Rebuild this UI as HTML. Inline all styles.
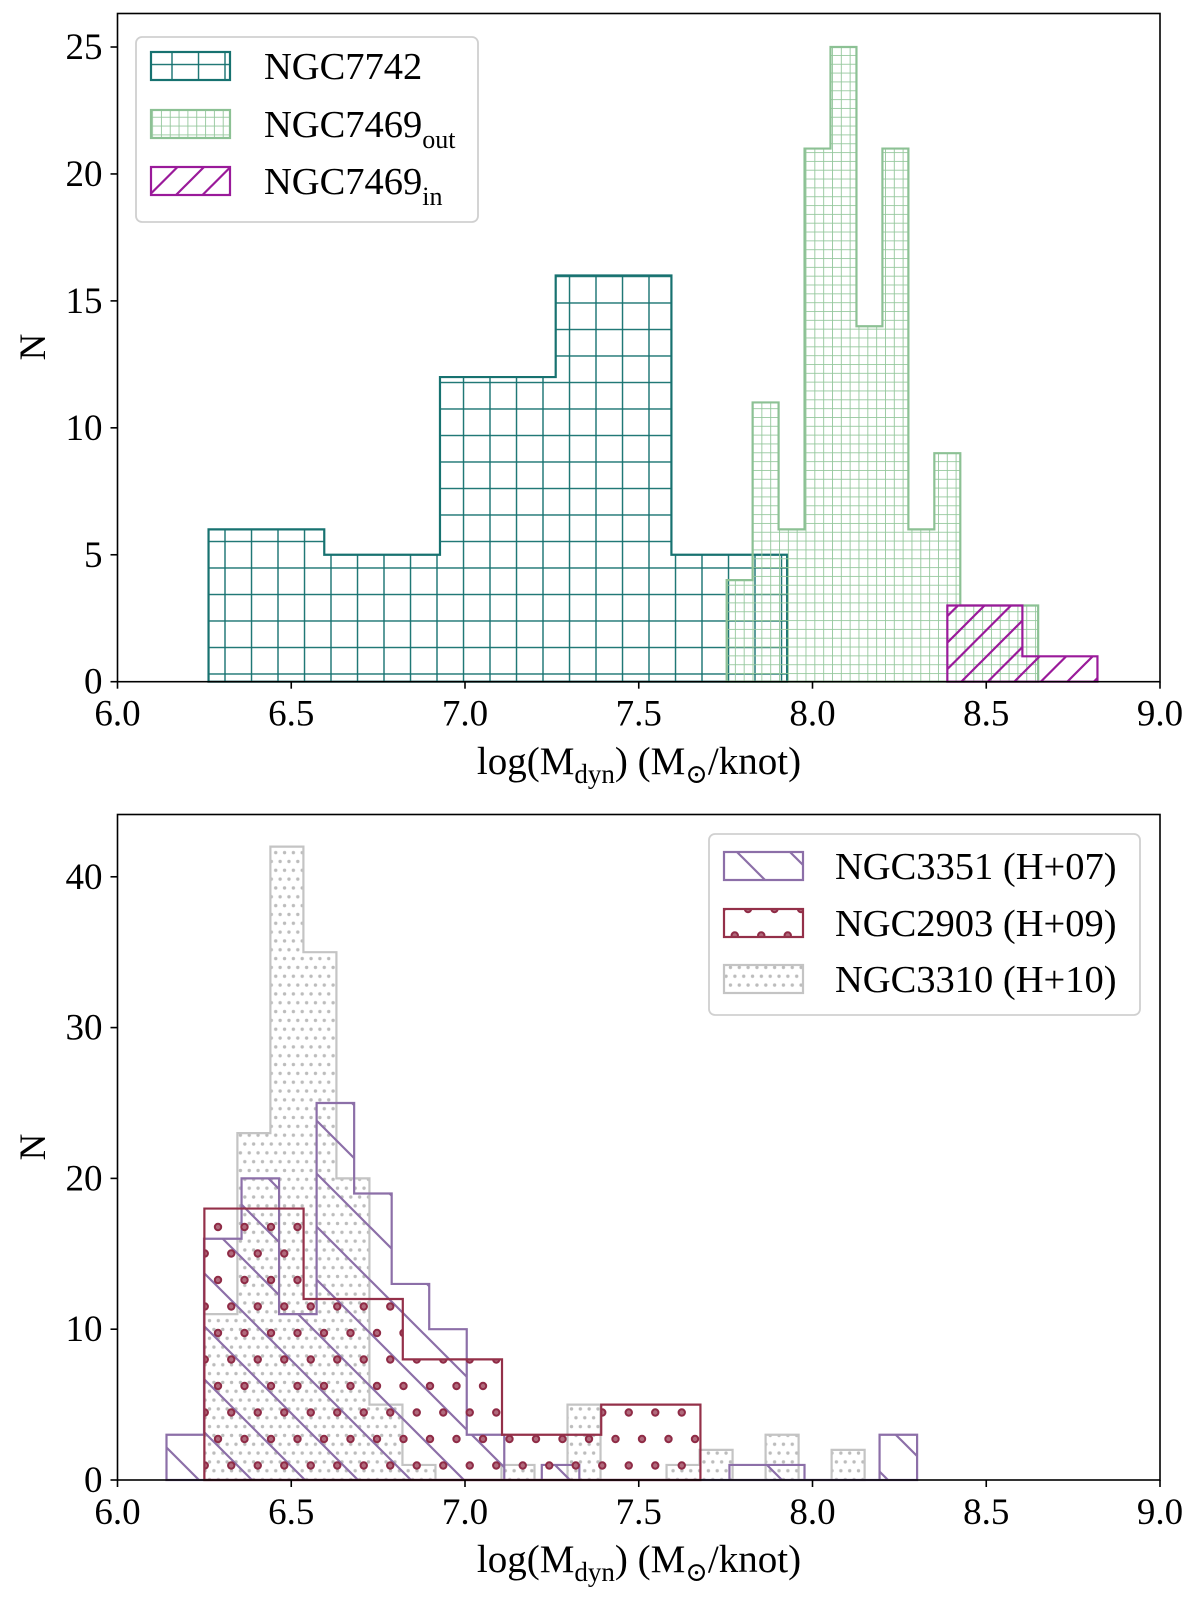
<!DOCTYPE html>
<html><head><meta charset="utf-8"><style>
html,body{margin:0;padding:0;background:#fff;}
svg{display:block;font-family:"Liberation Serif","DejaVu Serif",serif;}
</style></head><body>
<svg id="fig" width="1200" height="1602" viewBox="0 0 1200 1602" xmlns="http://www.w3.org/2000/svg">
<defs>
<pattern id="p-teal" patternUnits="userSpaceOnUse" x="12.3" y="10.8" width="26.5" height="26.5">
<path d="M0 0H26.5M0 0V26.5" stroke="#177270" stroke-width="2.8" fill="none"/></pattern>
<pattern id="p-green" patternUnits="userSpaceOnUse" x="2" y="2" width="8.83" height="8.83">
<path d="M0 0H8.83M0 0V8.83" stroke="#94c79c" stroke-width="1.8" fill="none"/></pattern>
<pattern id="p-purple" patternUnits="userSpaceOnUse" x="0" y="0" width="26.5" height="26.5">
<path d="M-1 27.5L27.5 -1M-14.25 14.25L14.25 -14.25M12.25 40.75L40.75 12.25" stroke="#9a1a9a" stroke-width="2.2" fill="none"/></pattern>
<pattern id="p-lav" patternUnits="userSpaceOnUse" x="0" y="9" width="53" height="53">
<path d="M-1 -1L54 54M-27.5 25.5L27.5 80.5M25.5 -27.5L80.5 27.5" stroke="#8c6fa8" stroke-width="2.2" fill="none"/></pattern>
<pattern id="p-red" patternUnits="userSpaceOnUse" x="1" y="3" width="26.5" height="53">
<circle cx="5" cy="5" r="3.2" fill="#b06a7c" stroke="#8f2b46" stroke-width="2"/>
<circle cx="18.25" cy="31.5" r="3.2" fill="#b06a7c" stroke="#8f2b46" stroke-width="2"/></pattern>
<pattern id="p-grey" patternUnits="userSpaceOnUse" x="0" y="3" width="8.83" height="17.66">
<circle cx="2" cy="2" r="1.7" fill="#bcbcbc"/>
<circle cx="6.4" cy="10.83" r="1.7" fill="#bcbcbc"/></pattern>
</defs>
<g id="top"></g>
<g id="bot"></g>
</svg>
<script>
// ---- top panel data ----
const topXTicks = [6.0, 6.5, 7.0, 7.5, 8.0, 8.5, 9.0];
const topYTicks = [0, 5, 10, 15, 20, 25];
const n7742Start = 6.262, n7742Width = 0.333;
const n7742Counts = [6, 5, 12, 16, 5];
const n7469outStart = 7.753, n7469outWidth = 0.0747;
const n7469outCounts = [4, 11, 6, 21, 25, 14, 21, 6, 9, 3, 3, 3];
const n7469inStart = 8.388, n7469inWidth = 0.216;
const n7469inCounts = [3, 1];
// ---- bottom panel data ----
const botXTicks = [6.0, 6.5, 7.0, 7.5, 8.0, 8.5, 9.0];
const botYTicks = [0, 10, 20, 30, 40];
const n3351Start = 6.141, n3351Width = 0.108;
const n3351Counts = [3, 16, 20, 11, 25, 19, 13, 10, 3, 0, 1, 0, 0, 0, 0, 1, 1, 0, 0, 3];
const n2903Start = 6.25, n2903Width = 0.2855;
const n2903Counts = [18, 12, 8, 3, 5];
const n3310Start = 6.25, n3310Width = 0.095;
const n3310Counts = [11, 23, 42, 35, 20, 5, 1, 0, 0, 1, 0, 5, 0, 0, 1, 2, 0, 3, 0, 2];

const NS = "http://www.w3.org/2000/svg";
function mk(tag, attrs, parent) {
  const e = document.createElementNS(NS, tag);
  for (const k in attrs) e.setAttribute(k, attrs[k]);
  parent.appendChild(e);
  return e;
}
function makeAxes(L, R, T, B, xmin, xmax, ymin, ymax) {
  return {
    x: v => L + (v - xmin) / (xmax - xmin) * (R - L),
    y: v => B - (v - ymin) / (ymax - ymin) * (B - T),
    L, R, T, B
  };
}
function drawHist(g, ax, start, width, counts, fill, stroke, name) {
  let d = "M" + ax.x(start) + " " + ax.y(0);
  for (let i = 0; i < counts.length; i++) {
    const x0 = ax.x(start + i * width), x1 = ax.x(start + (i + 1) * width), y = ax.y(counts[i]);
    d += " L" + x0 + " " + y + " L" + x1 + " " + y;
  }
  d += " L" + ax.x(start + counts.length * width) + " " + ax.y(0) + " Z";
  const p = mk("path", {d: d, fill: fill, stroke: stroke, "stroke-width": 2.2, "stroke-linejoin": "miter"}, g);
  
  
}
function drawFrame(g, ax, xticks, yticks) {
  for (const t of xticks) {
    const x = ax.x(t);
    const l = mk("line", {x1: x, x2: x, y1: ax.B, y2: ax.B + 7, stroke: "#000", "stroke-width": 1.6}, g);
    
    
    const tx = mk("text", {x: x, y: ax.B + 44, "font-size": 37, "text-anchor": "middle", fill: "#000"}, g);
    tx.textContent = t.toFixed(1);
    
    
  }
  for (const t of yticks) {
    const y = ax.y(t);
    const l = mk("line", {x1: ax.L - 7, x2: ax.L, y1: y, y2: y, stroke: "#000", "stroke-width": 1.6}, g);
    
    
    const tx = mk("text", {x: ax.L - 15, y: y + 12, "font-size": 37, "text-anchor": "end", fill: "#000"}, g);
    tx.textContent = String(t);
    
    
  }
  const r = mk("rect", {x: ax.L, y: ax.T, width: ax.R - ax.L, height: ax.B - ax.T, fill: "none", stroke: "#000", "stroke-width": 1.6}, g);
  
  
}
function xLabel(g, cx, y) {
  const t = mk("text", {x: cx, y: y, "font-size": 39, "text-anchor": "middle", fill: "#000"}, g);
  
  
  t.innerHTML = 'log(M<tspan font-size="27" dy="9">dyn</tspan><tspan dy="-9">) (M</tspan><tspan font-size="27" dy="9">⊙</tspan><tspan dy="-9">/knot)</tspan>';
}
function yLabel(g, x, cy) {
  const t = mk("text", {x: x, y: cy, "font-size": 37, "text-anchor": "middle", fill: "#000", transform: "rotate(-90 " + x + " " + cy + ")"}, g);
  t.textContent = "N";
  
  
}
function legend(g, bx, by, bw, bh, entries) {
  const box = mk("rect", {x: bx, y: by, width: bw, height: bh, rx: 6, fill: "#fff", "fill-opacity": 0.85, stroke: "#d0d0d0", "stroke-width": 1.8}, g);
  
  
  for (const e of entries) {
    const eg = mk("g", {}, g);
    
    
    mk("rect", {x: e.px, y: e.cy - 14, width: 79, height: 28, fill: e.fill, stroke: e.stroke, "stroke-width": 2.2}, eg);
    const t = mk("text", {x: e.tx, y: e.cy + 13, "font-size": 38.5, fill: "#000"}, eg);
    t.innerHTML = e.label;
  }
}

// top panel
const gT = document.getElementById("top");
const axT = makeAxes(117.5, 1160, 13.5, 681.7, 6, 9, 0, 26.32);
drawHist(gT, axT, n7742Start, n7742Width, n7742Counts, "url(#p-teal)", "#177270", "hist-ngc7742");
drawHist(gT, axT, n7469outStart, n7469outWidth, n7469outCounts, "url(#p-green)", "#8cc194", "hist-ngc7469-out");
drawHist(gT, axT, n7469inStart, n7469inWidth, n7469inCounts, "url(#p-purple)", "#9a1a9a", "hist-ngc7469-in");
drawFrame(gT, axT, topXTicks, topYTicks);
xLabel(gT, 639, 774);
yLabel(gT, 45, 347);
legend(gT, 136, 37, 342, 185, [
  {px: 151, cy: 66, tx: 264, fill: "url(#p-teal)", stroke: "#177270", label: "NGC7742"},
  {px: 151, cy: 124, tx: 264, fill: "url(#p-green)", stroke: "#8cc194", label: 'NGC7469<tspan font-size="26" dy="11">out</tspan>'},
  {px: 151, cy: 181, tx: 264, fill: "url(#p-purple)", stroke: "#9a1a9a", label: 'NGC7469<tspan font-size="26" dy="11">in</tspan>'}
]);

// bottom panel
const gB = document.getElementById("bot");
const axB = makeAxes(117.5, 1160, 814.5, 1480, 6, 9, 0, 44.13);
drawHist(gB, axB, n3310Start, n3310Width, n3310Counts, "url(#p-grey)", "#c4c4c4", "hist-ngc3310");
drawHist(gB, axB, n3351Start, n3351Width, n3351Counts, "url(#p-lav)", "#8c6fa8", "hist-ngc3351");
drawHist(gB, axB, n2903Start, n2903Width, n2903Counts, "url(#p-red)", "#943049", "hist-ngc2903");
drawFrame(gB, axB, botXTicks, botYTicks);
xLabel(gB, 639, 1572);
yLabel(gB, 45, 1147);
legend(gB, 709, 834, 431, 181, [
  {px: 724, cy: 866, tx: 835, fill: "url(#p-lav)", stroke: "#8c6fa8", label: "NGC3351 (H+07)"},
  {px: 724, cy: 923, tx: 835, fill: "url(#p-red)", stroke: "#943049", label: "NGC2903 (H+09)"},
  {px: 724, cy: 979, tx: 835, fill: "url(#p-grey)", stroke: "#c4c4c4", label: "NGC3310 (H+10)"}
]);
</script>
</body></html>
